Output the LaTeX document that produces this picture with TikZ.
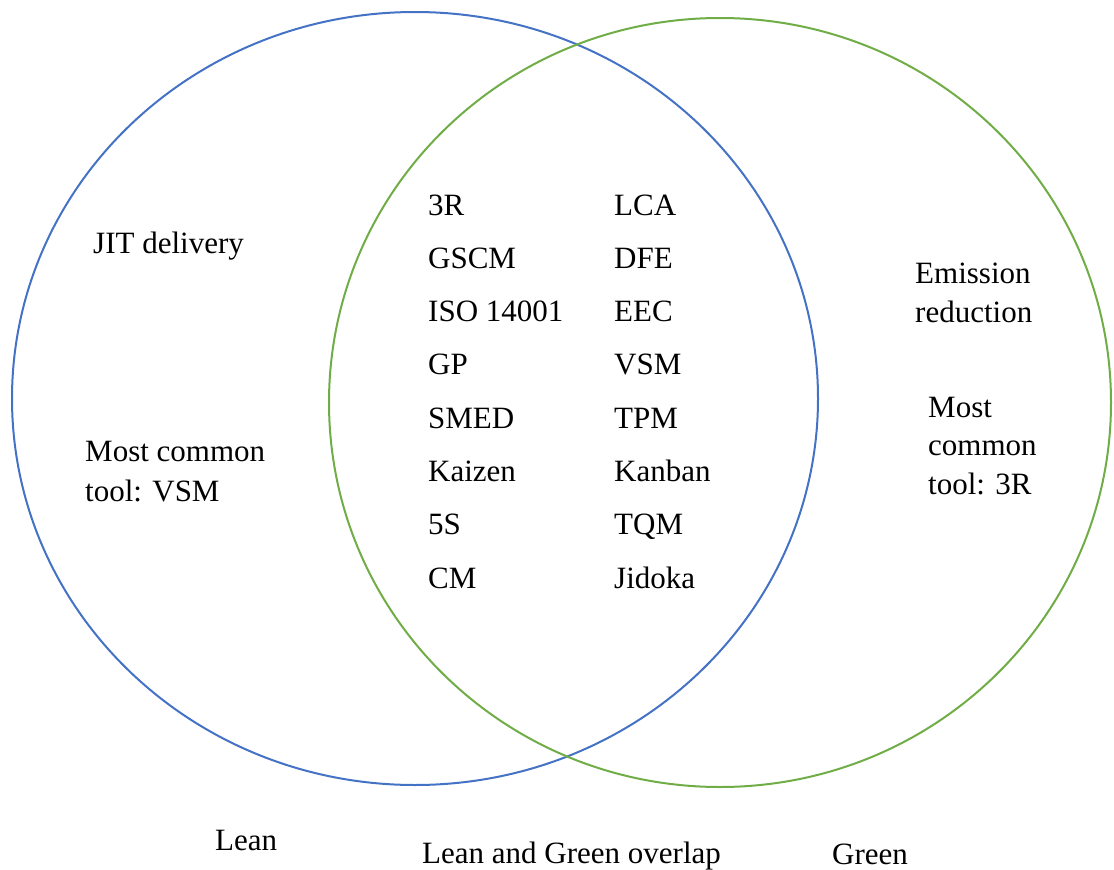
\documentclass[tikz,border=0pt]{standalone}
\usepackage{fontspec}
\setmainfont{Liberation Serif}
\definecolor{leanblue}{HTML}{4472C4}
\definecolor{greengreen}{HTML}{70AD47}
\begin{document}
\begin{tikzpicture}[x=1pt,y=-1pt,
  lbl/.style={anchor=base west, inner sep=0pt, font=\fontsize{31}{40}\selectfont},
  ring/.style={line width=2pt}]
\useasboundingbox (0,0) rectangle (1114,870);
% the two sets
\draw[ring, leanblue] (415,398.5) ellipse [x radius=403pt, y radius=386.5pt];
\draw[ring, greengreen] (720,402.5) ellipse [x radius=391pt, y radius=384.5pt];

% Lean only
\node[lbl] (jit) at (93,253) {JIT delivery};
\node[lbl] (leanmc1) at (85,461) {Most common};
\node[lbl] (leanmc2) at (85,501) {tool: VSM};

% Green only
\node[lbl] (em1) at (915,283) {Emission};
\node[lbl] (em2) at (915,322) {reduction};
\node[lbl] (gmc1) at (928,417) {Most};
\node[lbl] (gmc2) at (928,455) {common};
\node[lbl] (gmc3) at (928,494) {tool: 3R};

% overlap, left column
\node[lbl] (a1) at (428,215) {3R};
\node[lbl] (a2) at (428,268.3) {GSCM};
\node[lbl] (a3) at (428,321.6) {ISO 14001};
\node[lbl] (a4) at (428,374.9) {GP};
\node[lbl] (a5) at (428,428.2) {SMED};
\node[lbl] (a6) at (428,481.5) {Kaizen};
\node[lbl] (a7) at (428,534.8) {5S};
\node[lbl] (a8) at (428,588.1) {CM};

% overlap, right column
\node[lbl] (b1) at (614,215) {LCA};
\node[lbl] (b2) at (614,268.3) {DFE};
\node[lbl] (b3) at (614,321.6) {EEC};
\node[lbl] (b4) at (614,374.9) {VSM};
\node[lbl] (b5) at (614,428.2) {TPM};
\node[lbl] (b6) at (614,481.5) {Kanban};
\node[lbl] (b7) at (614,534.8) {TQM};
\node[lbl] (b8) at (614,588.1) {Jidoka};

% set captions
\node[lbl] (leancap) at (215,850) {Lean};
\node[lbl] (overcap) at (422,863) {Lean and Green overlap};
\node[lbl] (greencap) at (832,864) {Green};
\end{tikzpicture}
\end{document}
